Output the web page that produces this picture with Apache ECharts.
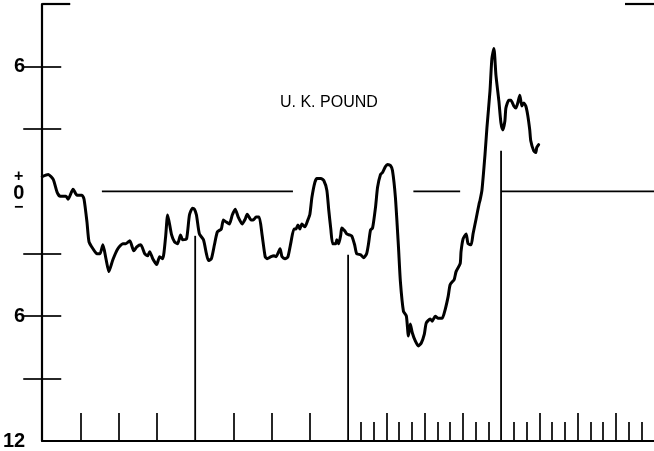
<!DOCTYPE html>
<html>
<head>
<meta charset="utf-8">
<script src="https://cdn.jsdelivr.net/npm/echarts@6/dist/echarts.min.js"></script>
<style>
html,body{margin:0;padding:0;background:#fff;}
#chart{width:654px;height:451px;}
</style>
</head>
<body>
<div id="chart"></div>
<script>
// Months since start of chart (x) and percent deviation (y)
const monthX = [0,0.47,0.86,1.17,1.41,1.87,2.03,2.42,2.73,3.12,3.28,3.51,3.67,3.98,4.29,4.53,4.76,5.00,5.23,5.54,5.93,6.32,6.56,6.87,7.18,7.42,7.73,8.04,8.27,8.43,8.67,8.98,9.21,9.45,9.68,9.84,10.15,10.38,10.62,10.85,11.01,11.32,11.55,11.79,11.94,12.10,12.33,12.65,12.88,13.04,13.27,13.51,13.74,14.05,14.21,14.44,14.68,14.91,15.14,15.38,15.69,15.93,16.08,16.39,16.55,16.78,17.02,17.25,17.49,17.64,17.95,18.19,18.35,18.66,18.81,19.05,19.28,19.52,19.75,19.91,20.06,20.22,20.37,20.61,20.84,21.00,21.16,21.39,21.55,21.86,22.09,22.33,22.48,22.64,22.79,23.03,23.11,23.26,23.42,23.50,23.73,23.89,24.12,24.28,24.51,24.67,24.98,25.21,25.45,25.60,25.76,25.92,26.15,26.31,26.54,26.70,26.93,27.09,27.32,27.48,27.71,27.95,28.10,28.34,28.57,28.73,28.88,29.04,29.27,29.51,29.74,29.98,30.13,30.44,30.60,30.84,31.07,31.38,31.62,31.85,32.01,32.32,32.47,32.79,32.86,33.02,33.26,33.41,33.65,33.80,34.04,34.27,34.35,34.50,34.74,34.89,35.13,35.28,35.44,35.60,35.83,35.99,36.14,36.30,36.38,36.61,36.77,37.00,37.16,37.31,37.47,37.63,37.78,37.94,38.09,38.25,38.33,38.56,38.72,38.80,38.95];
const poundValues = [0.71,0.81,0.57,-0.05,-0.24,-0.24,-0.38,0.10,-0.19,-0.19,-0.38,-1.48,-2.43,-2.76,-3.00,-3.00,-2.57,-3.24,-3.86,-3.29,-2.76,-2.52,-2.52,-2.38,-2.86,-2.67,-2.57,-3.00,-3.10,-2.90,-3.24,-3.52,-3.14,-3.24,-2.19,-1.14,-2.10,-2.43,-2.52,-2.10,-2.33,-2.29,-1.14,-0.81,-0.86,-1.14,-2.05,-2.33,-3.00,-3.33,-3.24,-2.57,-1.95,-1.81,-1.38,-1.48,-1.57,-1.14,-0.86,-1.24,-1.57,-1.33,-1.10,-1.38,-1.38,-1.24,-1.24,-2.10,-3.14,-3.24,-3.14,-3.10,-3.14,-2.76,-3.14,-3.24,-3.14,-2.43,-1.81,-1.81,-1.62,-1.81,-1.57,-1.71,-1.38,-1.10,-0.29,0.43,0.62,0.62,0.52,0.05,-0.90,-1.81,-2.52,-2.52,-2.33,-2.52,-2.10,-1.76,-1.90,-2.05,-2.10,-2.14,-2.57,-3.00,-3.05,-3.19,-3.00,-2.52,-1.86,-1.76,-0.76,0.19,0.81,0.90,1.19,1.29,1.24,1.00,-0.29,-2.67,-4.33,-5.76,-6.00,-6.95,-6.38,-6.81,-7.19,-7.43,-7.29,-6.86,-6.33,-6.14,-6.24,-6.00,-6.10,-6.10,-5.67,-5.05,-4.48,-4.24,-3.86,-3.48,-2.90,-2.29,-2.05,-2.52,-2.57,-2.05,-1.33,-0.62,-0.43,0.05,1.76,3.05,4.81,6.38,6.86,5.57,4.33,3.29,2.95,3.38,4.00,4.38,4.38,4.10,4.00,4.24,4.62,4.10,4.24,4.10,3.67,2.95,2.43,1.95,1.86,2.10,2.24];

const titleText = 'U. K. POUND';
const yLabelValues = [6, 0, -6, -12];
const yTickValues = [6, 3, -3, -6, -9];
const yTopTick = [9];
const quarterTicks = [3,6,9,15,18,21,27,30,33,39,42,45];
const monthTicks = [25,26,28,29,31,32,34,35,37,38,40,41,43,44,46,47];
const yearLines = [12, 24, 36];
const yearLineTops = [-2.14, -3.05, 1.95];
const zeroSegments = [[4.68, 19.67], [29.12, 32.79], [36.0, 48]];

const curve = monthX.map((x, i) => [x, poundValues[i]]);

const FONT = '"Liberation Sans", Arial, sans-serif';
const BLACK = '#000';

const chart = echarts.init(document.getElementById('chart'), null, {renderer: 'canvas'});

const baseY = {
  type: 'value', min: -12, max: 9, gridIndex: 0,
  splitLine: {show: false},
  axisLabel: {show: false},
  axisLine: {show: false}
};

const series = [];
zeroSegments.forEach(seg => {
  series.push({
    type: 'line', xAxisIndex: 0, yAxisIndex: 0, symbol: 'none', silent: true,
    data: [[seg[0], 0], [seg[1], 0]],
    lineStyle: {color: BLACK, width: 1.7}
  });
});
yearLines.forEach((x, i) => {
  series.push({
    type: 'line', xAxisIndex: 0, yAxisIndex: 0, symbol: 'none', silent: true,
    data: [[x, -12], [x, yearLineTops[i]]],
    lineStyle: {color: BLACK, width: 1.8}
  });
});
series.push({
  type: 'line', xAxisIndex: 0, yAxisIndex: 0, symbol: 'none', silent: true,
  data: curve, smooth: 0.2,
  lineStyle: {color: BLACK, width: 3, join: 'round', cap: 'round'}
});

chart.setOption({
  animation: false,
  backgroundColor: '#fff',
  title: {
    text: titleText, left: 275, top: 90,
    textStyle: {fontFamily: FONT, fontSize: 16, fontWeight: 'normal', color: BLACK}
  },
  grid: {left: 42, top: 4, width: 615, height: 441, containLabel: false},
  xAxis: [
    {
      type: 'value', min: 0, max: 48, position: 'bottom',
      splitLine: {show: false},
      axisLabel: {show: false},
      axisLine: {show: true, onZero: false, lineStyle: {color: BLACK, width: 2.2}},
      axisTick: {show: true, inside: true, length: 28, customValues: quarterTicks, lineStyle: {color: BLACK, width: 1.7}}
    },
    {
      type: 'value', min: 0, max: 48, position: 'bottom',
      splitLine: {show: false},
      axisLabel: {show: false},
      axisLine: {show: false, onZero: false},
      axisTick: {show: true, inside: true, length: 19, customValues: monthTicks, lineStyle: {color: BLACK, width: 1.7}}
    }
  ],
  yAxis: [
    Object.assign({}, baseY, {
      position: 'left',
      axisLine: {show: true, onZero: false, lineStyle: {color: BLACK, width: 2.2}},
      axisTick: {show: true, inside: true, length: 19, customValues: yTickValues, lineStyle: {color: BLACK, width: 1.7}},
      axisLabel: {
        show: true, customValues: yLabelValues, margin: 17, align: 'right',
        fontFamily: FONT, fontSize: 20, fontWeight: 'bold', color: BLACK,
        formatter: v => v === 0 ? '{s|+}\n{z|0}\n{m|−}' : String(Math.abs(v)),
        rich: {
          s: {fontFamily: FONT, fontSize: 16, fontWeight: 'bold', lineHeight: 16, width: 13, align: 'center', color: BLACK},
          z: {fontFamily: FONT, fontSize: 20, fontWeight: 'bold', lineHeight: 17, width: 13, align: 'center', color: BLACK},
          m: {fontFamily: FONT, fontSize: 16, fontWeight: 'bold', lineHeight: 12, width: 13, align: 'center', color: BLACK}
        }
      }
    }),
    Object.assign({}, baseY, {
      position: 'left',
      axisTick: {show: true, inside: true, length: 28, customValues: yTopTick, lineStyle: {color: BLACK, width: 2.2}}
    }),
    Object.assign({}, baseY, {
      position: 'right',
      axisTick: {show: true, inside: true, length: 19, customValues: yTickValues, lineStyle: {color: BLACK, width: 1.7}}
    }),
    Object.assign({}, baseY, {
      position: 'right',
      axisTick: {show: true, inside: true, length: 29, customValues: yTopTick, lineStyle: {color: BLACK, width: 2.2}}
    })
  ],
  series: series
});
</script>
</body>
</html>
